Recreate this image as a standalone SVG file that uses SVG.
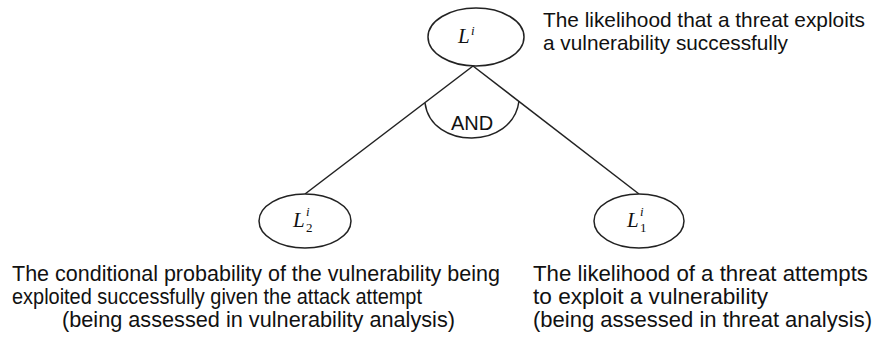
<svg xmlns="http://www.w3.org/2000/svg" width="875" height="342" viewBox="0 0 875 342">
<style>
.node{fill:#fff;stroke:#222;stroke-width:1.5}
.edge{fill:none;stroke:#222;stroke-width:1.5}
.t{font-family:"Liberation Sans",Arial,sans-serif;font-size:22px;fill:#111}
.tt{font-size:21px}
.m{font-family:"Liberation Serif","DejaVu Serif",serif;font-style:italic;font-size:21px;fill:#111}
.sup{font-size:13px}
.sub{font-size:13px;font-style:normal}
</style>
<rect width="875" height="342" fill="#fff"/>
<g id="connectors">
<path class="edge" d="M473,66 L305,194"/>
<path class="edge" d="M473,66 L639,194"/>
<path class="edge" d="M425,103 C431,150 513,150 519,101"/>
</g>
<g id="node-Li">
<ellipse class="node" cx="476" cy="37" rx="48" ry="29"/>
<text class="m" x="458" y="43">L<tspan class="sup" x="471" y="35">i</tspan></text>
</g>
<g id="node-L2">
<ellipse class="node" cx="305" cy="221" rx="46" ry="27"/>
<text class="m" x="293" y="227">L<tspan class="sup" x="306" y="216">i</tspan><tspan class="sub" x="306" y="232">2</tspan></text>
</g>
<g id="node-L1">
<ellipse class="node" cx="639" cy="221" rx="45" ry="27"/>
<text class="m" x="627" y="227">L<tspan class="sup" x="640" y="216">i</tspan><tspan class="sub" x="640" y="232">1</tspan></text>
</g>
<g id="label-and">
<text class="t" x="472" y="130" text-anchor="middle" style="font-size:20px">AND</text>
</g>
<g id="label-top">
<text class="t tt" x="543" y="27" textLength="322" lengthAdjust="spacingAndGlyphs">The likelihood that a threat exploits</text>
<text class="t tt" x="543" y="50" textLength="245" lengthAdjust="spacingAndGlyphs">a vulnerability successfully</text>
</g>
<g id="label-left">
<text class="t" x="12" y="281" textLength="488" lengthAdjust="spacingAndGlyphs">The conditional probability of the vulnerability being</text>
<text class="t" x="12" y="304" textLength="410" lengthAdjust="spacingAndGlyphs">exploited successfully given the attack attempt</text>
<text class="t" x="62" y="327" textLength="393" lengthAdjust="spacingAndGlyphs">(being assessed in vulnerability analysis)</text>
</g>
<g id="label-right">
<text class="t" x="533" y="281" textLength="335" lengthAdjust="spacingAndGlyphs">The likelihood of a threat attempts</text>
<text class="t" x="533" y="304" textLength="235" lengthAdjust="spacingAndGlyphs">to exploit a vulnerability</text>
<text class="t" x="533" y="327" textLength="339" lengthAdjust="spacingAndGlyphs">(being assessed in threat analysis)</text>
</g>
</svg>
